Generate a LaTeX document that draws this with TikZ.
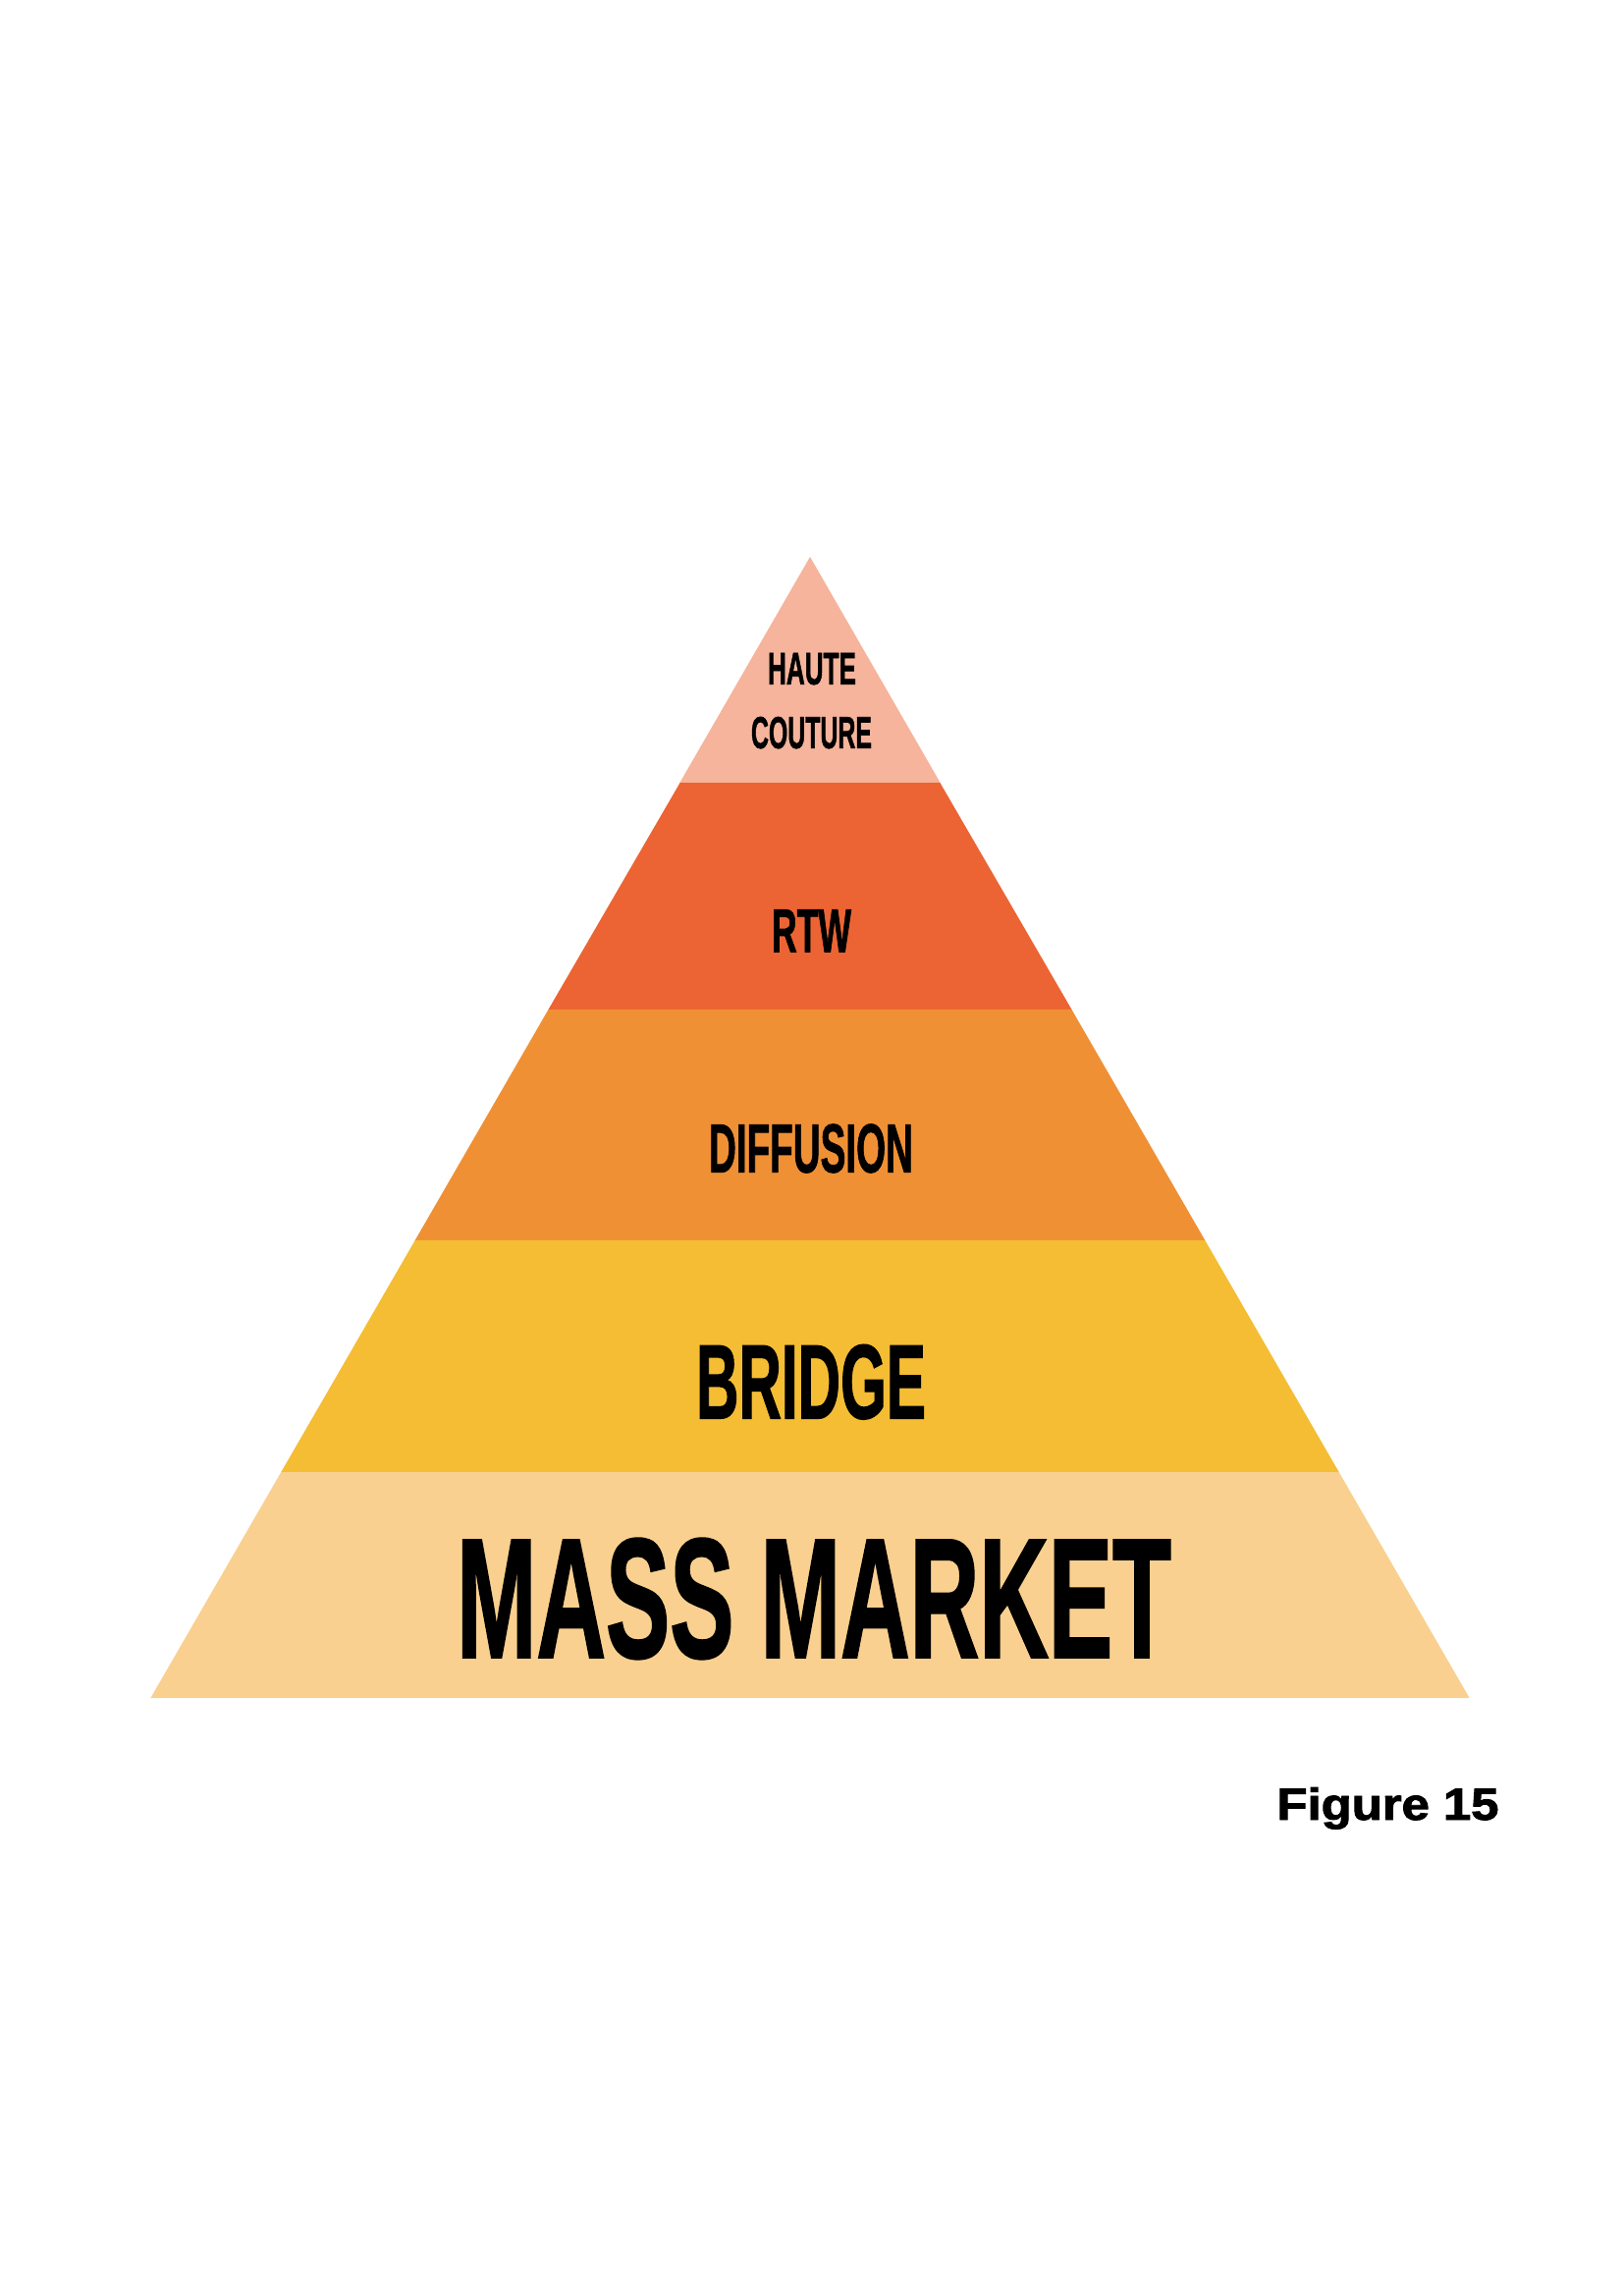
\documentclass[tikz,border=0pt]{standalone}
\usepackage{fontspec}
\usepackage{graphicx}
\setmainfont{Liberation Sans}
\newfontfamily\labfont{Liberation Sans}[BoldFeatures={FakeBold=1.5}]
\newfontfamily\figfont{Liberation Sans}[BoldFeatures={FakeBold=2}]
\newlength\pxu
\setlength\pxu{0.1mm}
\newcommand\fitbox[3]{\resizebox{#1\pxu}{#2\pxu}{#3}}
\definecolor{cHaute}{HTML}{F5B49B}
\definecolor{cRtw}{HTML}{EC6433}
\definecolor{cDiff}{HTML}{F09035}
\definecolor{cBridge}{HTML}{F4BD33}
\definecolor{cMass}{HTML}{F9D08F}
\tikzset{
  lab/.style={anchor=south, inner sep=0pt, font=\labfont\bfseries, text=black},
  tier/.style={draw=none}
}
\begin{document}
\begin{tikzpicture}[x=0.1mm, y=-0.1mm]
\useasboundingbox (0,0) rectangle (1653,2338);
% tiers
\fill[tier, cHaute] (825,567) -- (957.9,797.5) -- (692.1,797.5) -- cycle;
\fill[tier, cRtw] (692.6,797) -- (957.4,797) -- (1091.8,1028.5) -- (558.2,1028.5) -- cycle;
\fill[tier, cDiff] (558.5,1028) -- (1091.5,1028) -- (1227.6,1263.5) -- (422.4,1263.5) -- cycle;
\fill[tier, cBridge] (422.7,1263) -- (1227.3,1263) -- (1364,1499.5) -- (286,1499.5) -- cycle;
\fill[tier, cMass] (286.3,1499) -- (1363.7,1499) -- (1496.6,1729) -- (153.4,1729) -- cycle;
% labels
\node[lab] (haute) at (827,698) {\fitbox{90}{32}{HAUTE}};
\node[lab] (couture) at (826.5,763) {\fitbox{123}{32}{COUTURE}};
\node[lab] (rtw) at (826.5,970) {\fitbox{81}{43}{RTW}};
\node[lab] (diffusion) at (826,1195) {\fitbox{208}{49}{DIFFUSION}};
\node[lab] (bridge) at (826,1446) {\fitbox{234}{75}{BRIDGE}};
\node[lab] (mass) at (829,1690) {\fitbox{728}{121}{MASS MARKET}};
\node[anchor=base, inner sep=0pt, font=\figfont\bfseries] (fig) at (1413.5,1853) {\fitbox{226}{33}{Figure 15}};
\end{tikzpicture}
\end{document}
